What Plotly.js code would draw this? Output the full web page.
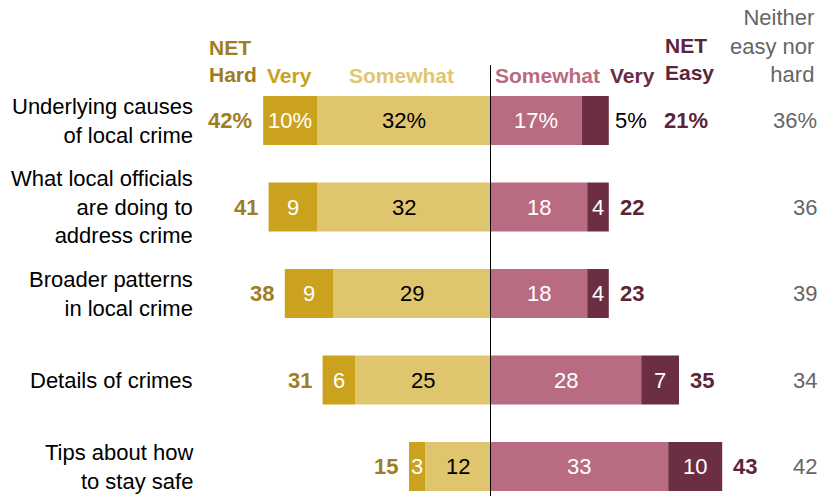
<!DOCTYPE html>
<html>
<head>
<meta charset="utf-8">
<script src="https://cdn.plot.ly/plotly-3.0.1.min.js"></script>
<style>html,body{margin:0;padding:0;background:#fff;}#chart{width:828px;height:496px;}</style>
</head>
<body>
<div id="chart"></div>
<script>
const categories = [
  "Underlying causes<br>of local crime",
  "What local officials<br>are doing to<br>address crime",
  "Broader patterns<br>in local crime",
  "Details of crimes",
  "Tips about how<br>to stay safe"
];
const veryHard = [10, 9, 9, 6, 3];
const somewhatHard = [32, 32, 29, 25, 12];
const somewhatEasy = [17, 18, 18, 28, 33];
const veryEasy = [5, 4, 4, 7, 10];
const netHard = [42, 41, 38, 31, 15];
const netEasy = [21, 22, 23, 35, 43];
const neither = [36, 36, 39, 34, 42];

const C = {
  veryHard: "#CBA21D", somewhatHard: "#DFC66E",
  somewhatEasy: "#B86B81", veryEasy: "#6C2E43",
  netHardText: "#9E7E22", netEasyText: "#5B2537",
  veryHardHead: "#C9A21E", somewhatHardHead: "#E0C670",
  somewhatEasyHead: "#B96B82", veryEasyHead: "#6A2C40",
  gray: "#666666"
};
const FONT = "Liberation Sans, Arial, sans-serif";
const W = 828, H = 496;
const px = v => v / W;
const py = v => 1 - v / H;

const rows = categories.map((_, i) => i);
const pct = i => (i === 0 ? "%" : "");

const barBase = {type: "bar", orientation: "h", y: rows, width: 0.566, hoverinfo: "skip"};
const traces = [
  Object.assign({}, barBase, {name: "Somewhat hard", x: somewhatHard.map(v => -v), marker: {color: C.somewhatHard, line: {width: 0}}}),
  Object.assign({}, barBase, {name: "Very hard", x: veryHard.map(v => -v), marker: {color: C.veryHard, line: {width: 0}}}),
  Object.assign({}, barBase, {name: "Somewhat easy", x: somewhatEasy, marker: {color: C.somewhatEasy, line: {width: 0}}}),
  Object.assign({}, barBase, {name: "Very easy", x: veryEasy, marker: {color: C.veryEasy, line: {width: 0}}})
];

const ann = [];
const txt = (o) => Object.assign({showarrow: false, font: {family: FONT, size: 22, color: "#000"}}, o);
const pxPerUnit = 5.4;
const estWidth = s => s.split("").reduce((a, ch) => a + (ch === "%" ? 19.5 : 12.2), 0);

rows.forEach(i => {
  ann.push(txt({xref: "paper", yref: "y", x: px(195), y: i, xanchor: "right", yanchor: "middle", align: "right", text: categories[i]}));
  ann.push(txt({xref: "x", yref: "y", x: -(somewhatHard[i] + veryHard[i] / 2), y: i, xanchor: "center", yanchor: "middle",
    text: veryHard[i] + pct(i), font: {family: FONT, size: 22, color: "#fff"}}));
  ann.push(txt({xref: "x", yref: "y", x: -somewhatHard[i] / 2, y: i, xanchor: "center", yanchor: "middle",
    text: somewhatHard[i] + pct(i)}));
  ann.push(txt({xref: "x", yref: "y", x: somewhatEasy[i] / 2, y: i, xanchor: "center", yanchor: "middle",
    text: somewhatEasy[i] + pct(i), font: {family: FONT, size: 22, color: "#fff"}}));
  const veTxt = veryEasy[i] + pct(i);
  const veFits = estWidth(veTxt) + 4 < veryEasy[i] * pxPerUnit;
  const endEasy = somewhatEasy[i] + veryEasy[i];
  let netShift = 9;
  if (veFits) {
    ann.push(txt({xref: "x", yref: "y", x: somewhatEasy[i] + veryEasy[i] / 2, y: i, xanchor: "center", yanchor: "middle",
      text: veTxt, font: {family: FONT, size: 22, color: "#fff"}}));
  } else {
    ann.push(txt({xref: "x", yref: "y", x: endEasy, y: i, xanchor: "left", yanchor: "middle", xshift: 4,
      text: veTxt}));
    netShift = 4 + estWidth(veTxt) + 17;
  }
  ann.push(txt({xref: "x", yref: "y", x: -(somewhatHard[i] + veryHard[i]), y: i, xanchor: "right", yanchor: "middle", xshift: -9,
    text: "<b>" + netHard[i] + pct(i) + "</b>", font: {family: FONT, size: 22, color: C.netHardText}}));
  ann.push(txt({xref: "x", yref: "y", x: endEasy, y: i, xanchor: "left", yanchor: "middle", xshift: netShift,
    text: "<b>" + netEasy[i] + pct(i) + "</b>", font: {family: FONT, size: 22, color: C.netEasyText}}));
  ann.push(txt({xref: "paper", yref: "y", x: px(819), y: i, xanchor: "right", yanchor: "middle",
    text: neither[i] + pct(i), font: {family: FONT, size: 22, color: C.gray}}));
});

const head = (o) => ann.push(txt(Object.assign({xref: "paper", yref: "paper", yanchor: "middle"}, o)));
head({x: px(207), y: py(61), xanchor: "left", align: "left", text: "<b>NET<br>Hard</b>", font: {family: FONT, size: 21, color: C.netHardText}});
head({x: px(289.5), y: py(75), xanchor: "center", text: "<b>Very</b>", font: {family: FONT, size: 21, color: C.veryHardHead}});
head({x: px(401.5), y: py(75), xanchor: "center", text: "<b>Somewhat</b>", font: {family: FONT, size: 21, color: C.somewhatHardHead}});
head({x: px(547.5), y: py(75), xanchor: "center", text: "<b>Somewhat</b>", font: {family: FONT, size: 21, color: C.somewhatEasyHead}});
head({x: px(632), y: py(75), xanchor: "center", text: "<b>Very</b>", font: {family: FONT, size: 21, color: C.veryEasyHead}});
head({x: px(663), y: py(59), xanchor: "left", align: "left", text: "<b>NET<br>Easy</b>", font: {family: FONT, size: 21, color: C.netEasyText}});
head({x: px(816), y: py(45.5), xanchor: "right", align: "right", text: "Neither<br>easy nor<br>hard", font: {family: FONT, size: 22, color: C.gray}});

const zeroPx = 490;
const rowTop = 120.5, rowStep = 86.5;
const yTop = -rowTop / rowStep;
const yBottom = yTop + H / rowStep;
const lineX = 0.5 / pxPerUnit;

const layout = {
  width: W, height: H,
  margin: {l: 0, r: 0, t: 0, b: 0, pad: 0},
  paper_bgcolor: "#fff", plot_bgcolor: "#fff",
  showlegend: false,
  barmode: "relative",
  font: {family: FONT},
  xaxis: {visible: false, range: [-zeroPx / pxPerUnit, (W - zeroPx) / pxPerUnit], fixedrange: true},
  yaxis: {visible: false, range: [yBottom, yTop], fixedrange: true},
  shapes: [{type: "line", xref: "x", yref: "paper", x0: lineX, x1: lineX, y0: 0, y1: py(65), layer: "above",
    line: {color: "#000", width: 1}}],
  annotations: ann
};

Plotly.newPlot("chart", traces, layout, {staticPlot: true, displayModeBar: false});
</script>
</body>
</html>
